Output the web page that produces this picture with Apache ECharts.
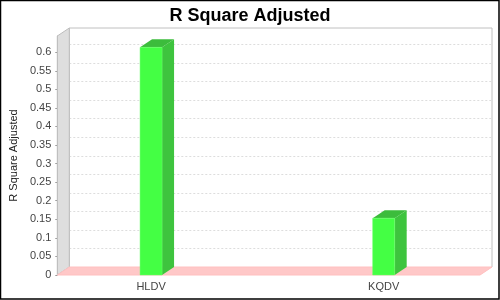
<!DOCTYPE html>
<html>
<head>
<meta charset="utf-8">
<script src="https://cdn.jsdelivr.net/npm/echarts@6/dist/echarts.min.js"></script>
<style>html,body{margin:0;padding:0;background:#fff;}#c{width:500px;height:300px;}</style>
</head>
<body>
<div id="c"></div>
<script>
var categories = ['HLDV', 'KQDV'];
var values = [0.613, 0.153];
var yTicks = [0.05, 0.1, 0.15, 0.2, 0.25, 0.3, 0.35, 0.4, 0.45, 0.5, 0.55, 0.6];
var yMax = 0.6436;

var DX = 12, DY = 8, BAR_W = 22;
var FONT = 'Liberation Sans';

var chart = echarts.init(document.getElementById('c'), null, {renderer: 'canvas'});

function renderWalls(params, api) {
  var cs = params.coordSys;
  var x = cs.x, y = cs.y, w = cs.width, h = cs.height;
  var children = [];
  children.push({type: 'polyline', shape: {points: [[x + DX, y + h - DY], [x + DX, y - DY], [x + w + DX, y - DY], [x + w + DX, y + h - DY]]},
    style: {stroke: '#c0c0c0', fill: null, lineWidth: 1}});
  yTicks.forEach(function (v) {
    var py = Math.round(api.coord([0, v])[1] - DY) + 0.5;
    children.push({type: 'line', shape: {x1: x + DX, y1: py, x2: x + w + DX, y2: py},
      style: {stroke: '#dddddd', lineWidth: 1, lineDash: [2, 2]}});
  });
  children.push({type: 'polygon', shape: {points: [[x, y + h], [x, y], [x + DX, y - DY], [x + DX, y + h - DY]]},
    style: {fill: '#dedede', stroke: '#bdbdbd', lineWidth: 1}});
  children.push({type: 'polygon', shape: {points: [[x, y + h], [x + DX, y + h - DY], [x + w + DX, y + h - DY], [x + w, y + h]]},
    style: {fill: '#ffc8c8', stroke: '#ffc0c0', lineWidth: 1}});
  return {type: 'group', children: children};
}

function renderBar(params, api) {
  var top = api.coord([api.value(0), api.value(1)]);
  var base = api.coord([api.value(0), 0]);
  var x0 = top[0] - BAR_W / 2, x1 = top[0] + BAR_W / 2;
  var ty = top[1], by = base[1];
  return {type: 'group', children: [
    {type: 'polygon', shape: {points: [[x1, ty], [x1 + DX, ty - DY], [x1 + DX, by - DY], [x1, by]]},
      style: {fill: '#3ec43e'}},
    {type: 'polygon', shape: {points: [[x0, ty], [x0 + DX, ty - DY], [x1 + DX, ty - DY], [x1, ty]]},
      style: {fill: '#3cbc3c'}},
    {type: 'rect', shape: {x: x0, y: ty, width: BAR_W, height: by - ty},
      style: {fill: '#44ff44', stroke: '#66ff66', lineWidth: 0.5}}
  ]};
}

var option = {
  animation: false,
  backgroundColor: '#ffffff',
  title: {
    text: 'R Square Adjusted', left: 'center', top: 2,
    textStyle: {fontFamily: FONT, fontSize: 18, fontWeight: 'bold', color: '#000'}
  },
  graphic: [{
    type: 'rect', shape: {x: 0.5, y: 0.5, width: 498.5, height: 298.5},
    style: {fill: null, stroke: '#000', lineWidth: 1.5}, z: 100
  }],
  grid: [
    {left: 56, right: 20, top: 36, bottom: 25},
    {left: 34.75, width: 467, top: 36, bottom: 25}
  ],
  xAxis: [
    {type: 'category', gridIndex: 0, data: categories, show: false},
    {type: 'category', gridIndex: 1, data: categories,
      axisLine: {show: false}, axisTick: {show: false},
      axisLabel: {fontFamily: FONT, fontSize: 11, color: '#444', margin: 6}}
  ],
  yAxis: [
    {type: 'value', gridIndex: 0, min: 0, max: yMax, interval: 0.05,
      name: 'R Square Adjusted', nameLocation: 'middle', nameRotate: 90, nameGap: 38,
      nameTextStyle: {fontFamily: FONT, fontSize: 11, color: '#222'},
      axisLine: {show: true, lineStyle: {color: '#999'}},
      axisTick: {show: true, length: 2, lineStyle: {color: '#999'}},
      axisLabel: {fontFamily: FONT, fontSize: 11, color: '#444', margin: 6, showMaxLabel: false},
      splitLine: {show: false}},
    {type: 'value', gridIndex: 1, min: 0, max: yMax, interval: 0.05, show: false, splitLine: {show: false}}
  ],
  series: [
    {type: 'custom', xAxisIndex: 0, yAxisIndex: 0, data: [[0, 0]], renderItem: renderWalls, silent: true, z: 1},
    {type: 'custom', xAxisIndex: 1, yAxisIndex: 1, data: values.map(function (v, i) { return [i, v]; }), renderItem: renderBar, z: 5}
  ]
};
chart.setOption(option);
</script>
</body>
</html>
